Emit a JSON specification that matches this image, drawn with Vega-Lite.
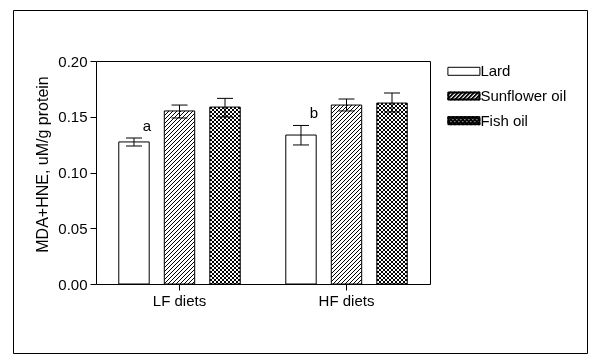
{
  "$schema": "https://vega.github.io/schema/vega-lite/v6.json",
  "width": 574,
  "height": 343,
  "autosize": "none",
  "padding": {"left": 13, "top": 10, "right": 15, "bottom": 11},
  "background": "white",
  "data": {
    "values": [
      {"diet": "LF diets", "fat": "Lard", "mean": 0.1274, "lo": 0.1238, "hi": 0.1309, "letter": "a"},
      {"diet": "LF diets", "fat": "Sunflower oil", "mean": 0.1552, "lo": 0.1489, "hi": 0.1605, "letter": ""},
      {"diet": "LF diets", "fat": "Fish oil", "mean": 0.1587, "lo": 0.1498, "hi": 0.1665, "letter": ""},
      {"diet": "HF diets", "fat": "Lard", "mean": 0.1336, "lo": 0.1247, "hi": 0.1422, "letter": "b"},
      {"diet": "HF diets", "fat": "Sunflower oil", "mean": 0.1605, "lo": 0.1552, "hi": 0.1659, "letter": ""},
      {"diet": "HF diets", "fat": "Fish oil", "mean": 0.1623, "lo": 0.1543, "hi": 0.1713, "letter": ""}
    ]
  },
  "encoding": {
    "x": {"field": "diet", "type": "nominal", "scale": {"domain": ["LF diets", "HF diets"], "range": [83, 417], "paddingInner": 0.273, "paddingOuter": 0.1365}, "axis": null},
    "xOffset": {"field": "fat", "type": "nominal", "scale": {"domain": ["Lard", "Sunflower oil", "Fish oil"], "paddingInner": 0.332, "paddingOuter": 0}}
  },
  "layer": [
    {
      "transform": [{"filter": "datum.fat === 'Sunflower oil' && datum.diet === 'LF diets'"}],
      "mark": {
        "type": "bar",
        "strokeWidth": 0,
        "fill": {
          "gradient": "linear", "x1": 0, "y1": 0, "x2": 0.20953, "y2": 1.19273,
          "stops": [
            {"offset":0,"color":"#000"},{"offset":0.00705,"color":"#000"},{"offset":0.00705,"color":"#fff"},{"offset":0.0188,"color":"#fff"},
            {"offset":0.0188,"color":"#000"},{"offset":0.02585,"color":"#000"},{"offset":0.02585,"color":"#fff"},{"offset":0.0376,"color":"#fff"},
            {"offset":0.0376,"color":"#000"},{"offset":0.04465,"color":"#000"},{"offset":0.04465,"color":"#fff"},{"offset":0.0564,"color":"#fff"},
            {"offset":0.0564,"color":"#000"},{"offset":0.06345,"color":"#000"},{"offset":0.06345,"color":"#fff"},{"offset":0.0752,"color":"#fff"},
            {"offset":0.0752,"color":"#000"},{"offset":0.08225,"color":"#000"},{"offset":0.08225,"color":"#fff"},{"offset":0.094,"color":"#fff"},
            {"offset":0.094,"color":"#000"},{"offset":0.10105,"color":"#000"},{"offset":0.10105,"color":"#fff"},{"offset":0.1128,"color":"#fff"},
            {"offset":0.1128,"color":"#000"},{"offset":0.11985,"color":"#000"},{"offset":0.11985,"color":"#fff"},{"offset":0.1316,"color":"#fff"},
            {"offset":0.1316,"color":"#000"},{"offset":0.13865,"color":"#000"},{"offset":0.13865,"color":"#fff"},{"offset":0.1504,"color":"#fff"},
            {"offset":0.1504,"color":"#000"},{"offset":0.15745,"color":"#000"},{"offset":0.15745,"color":"#fff"},{"offset":0.1692,"color":"#fff"},
            {"offset":0.1692,"color":"#000"},{"offset":0.17625,"color":"#000"},{"offset":0.17625,"color":"#fff"},{"offset":0.188,"color":"#fff"},
            {"offset":0.188,"color":"#000"},{"offset":0.19505,"color":"#000"},{"offset":0.19505,"color":"#fff"},{"offset":0.2068,"color":"#fff"},
            {"offset":0.2068,"color":"#000"},{"offset":0.21385,"color":"#000"},{"offset":0.21385,"color":"#fff"},{"offset":0.2256,"color":"#fff"},
            {"offset":0.2256,"color":"#000"},{"offset":0.23265,"color":"#000"},{"offset":0.23265,"color":"#fff"},{"offset":0.2444,"color":"#fff"},
            {"offset":0.2444,"color":"#000"},{"offset":0.25145,"color":"#000"},{"offset":0.25145,"color":"#fff"},{"offset":0.2632,"color":"#fff"},
            {"offset":0.2632,"color":"#000"},{"offset":0.27025,"color":"#000"},{"offset":0.27025,"color":"#fff"},{"offset":0.282,"color":"#fff"},
            {"offset":0.282,"color":"#000"},{"offset":0.28905,"color":"#000"},{"offset":0.28905,"color":"#fff"},{"offset":0.3008,"color":"#fff"},
            {"offset":0.3008,"color":"#000"},{"offset":0.30785,"color":"#000"},{"offset":0.30785,"color":"#fff"},{"offset":0.3196,"color":"#fff"},
            {"offset":0.3196,"color":"#000"},{"offset":0.32665,"color":"#000"},{"offset":0.32665,"color":"#fff"},{"offset":0.3384,"color":"#fff"},
            {"offset":0.3384,"color":"#000"},{"offset":0.34545,"color":"#000"},{"offset":0.34545,"color":"#fff"},{"offset":0.3572,"color":"#fff"},
            {"offset":0.3572,"color":"#000"},{"offset":0.36425,"color":"#000"},{"offset":0.36425,"color":"#fff"},{"offset":0.376,"color":"#fff"},
            {"offset":0.376,"color":"#000"},{"offset":0.38305,"color":"#000"},{"offset":0.38305,"color":"#fff"},{"offset":0.3948,"color":"#fff"},
            {"offset":0.3948,"color":"#000"},{"offset":0.40185,"color":"#000"},{"offset":0.40185,"color":"#fff"},{"offset":0.4136,"color":"#fff"},
            {"offset":0.4136,"color":"#000"},{"offset":0.42065,"color":"#000"},{"offset":0.42065,"color":"#fff"},{"offset":0.4324,"color":"#fff"},
            {"offset":0.4324,"color":"#000"},{"offset":0.43945,"color":"#000"},{"offset":0.43945,"color":"#fff"},{"offset":0.4512,"color":"#fff"},
            {"offset":0.4512,"color":"#000"},{"offset":0.45825,"color":"#000"},{"offset":0.45825,"color":"#fff"},{"offset":0.47,"color":"#fff"},
            {"offset":0.47,"color":"#000"},{"offset":0.47705,"color":"#000"},{"offset":0.47705,"color":"#fff"},{"offset":0.4888,"color":"#fff"},
            {"offset":0.4888,"color":"#000"},{"offset":0.49585,"color":"#000"},{"offset":0.49585,"color":"#fff"},{"offset":0.5076,"color":"#fff"},
            {"offset":0.5076,"color":"#000"},{"offset":0.51465,"color":"#000"},{"offset":0.51465,"color":"#fff"},{"offset":0.5264,"color":"#fff"},
            {"offset":0.5264,"color":"#000"},{"offset":0.53345,"color":"#000"},{"offset":0.53345,"color":"#fff"},{"offset":0.5452,"color":"#fff"},
            {"offset":0.5452,"color":"#000"},{"offset":0.55225,"color":"#000"},{"offset":0.55225,"color":"#fff"},{"offset":0.564,"color":"#fff"},
            {"offset":0.564,"color":"#000"},{"offset":0.57105,"color":"#000"},{"offset":0.57105,"color":"#fff"},{"offset":0.5828,"color":"#fff"},
            {"offset":0.5828,"color":"#000"},{"offset":0.58985,"color":"#000"},{"offset":0.58985,"color":"#fff"},{"offset":0.6016,"color":"#fff"},
            {"offset":0.6016,"color":"#000"},{"offset":0.60865,"color":"#000"},{"offset":0.60865,"color":"#fff"},{"offset":0.6204,"color":"#fff"},
            {"offset":0.6204,"color":"#000"},{"offset":0.62745,"color":"#000"},{"offset":0.62745,"color":"#fff"},{"offset":0.6392,"color":"#fff"},
            {"offset":0.6392,"color":"#000"},{"offset":0.64625,"color":"#000"},{"offset":0.64625,"color":"#fff"},{"offset":0.658,"color":"#fff"},
            {"offset":0.658,"color":"#000"},{"offset":0.66505,"color":"#000"},{"offset":0.66505,"color":"#fff"},{"offset":0.6768,"color":"#fff"},
            {"offset":0.6768,"color":"#000"},{"offset":0.68385,"color":"#000"},{"offset":0.68385,"color":"#fff"},{"offset":0.6956,"color":"#fff"},
            {"offset":0.6956,"color":"#000"},{"offset":0.70265,"color":"#000"},{"offset":0.70265,"color":"#fff"},{"offset":0.7144,"color":"#fff"},
            {"offset":0.7144,"color":"#000"},{"offset":0.72145,"color":"#000"},{"offset":0.72145,"color":"#fff"},{"offset":0.7332,"color":"#fff"},
            {"offset":0.7332,"color":"#000"},{"offset":0.74025,"color":"#000"},{"offset":0.74025,"color":"#fff"},{"offset":0.752,"color":"#fff"},
            {"offset":0.752,"color":"#000"},{"offset":0.75905,"color":"#000"},{"offset":0.75905,"color":"#fff"},{"offset":0.7708,"color":"#fff"},
            {"offset":0.7708,"color":"#000"},{"offset":0.77785,"color":"#000"},{"offset":0.77785,"color":"#fff"},{"offset":0.7896,"color":"#fff"},
            {"offset":0.7896,"color":"#000"},{"offset":0.79665,"color":"#000"},{"offset":0.79665,"color":"#fff"},{"offset":0.8084,"color":"#fff"},
            {"offset":0.8084,"color":"#000"},{"offset":0.81545,"color":"#000"},{"offset":0.81545,"color":"#fff"},{"offset":0.8272,"color":"#fff"},
            {"offset":0.8272,"color":"#000"},{"offset":0.83425,"color":"#000"},{"offset":0.83425,"color":"#fff"},{"offset":0.846,"color":"#fff"},
            {"offset":0.846,"color":"#000"},{"offset":0.85305,"color":"#000"},{"offset":0.85305,"color":"#fff"},{"offset":0.8648,"color":"#fff"},
            {"offset":0.8648,"color":"#000"},{"offset":0.87185,"color":"#000"},{"offset":0.87185,"color":"#fff"},{"offset":0.8836,"color":"#fff"},
            {"offset":0.8836,"color":"#000"},{"offset":0.89065,"color":"#000"},{"offset":0.89065,"color":"#fff"},{"offset":0.9024,"color":"#fff"},
            {"offset":0.9024,"color":"#000"},{"offset":0.90945,"color":"#000"},{"offset":0.90945,"color":"#fff"},{"offset":0.9212,"color":"#fff"},
            {"offset":0.9212,"color":"#000"},{"offset":0.92825,"color":"#000"},{"offset":0.92825,"color":"#fff"},{"offset":0.94,"color":"#fff"},
            {"offset":0.94,"color":"#000"},{"offset":0.94705,"color":"#000"},{"offset":0.94705,"color":"#fff"},{"offset":0.9588,"color":"#fff"},
            {"offset":0.9588,"color":"#000"},{"offset":0.96585,"color":"#000"},{"offset":0.96585,"color":"#fff"},{"offset":0.9776,"color":"#fff"},
            {"offset":0.9776,"color":"#000"},{"offset":0.98465,"color":"#000"},{"offset":0.98465,"color":"#fff"},{"offset":1,"color":"#fff"}
          ]
        }
      },
      "encoding": {
        "y": {"field": "mean", "type": "quantitative", "scale": {"domain": [0, 0.2], "range": [274, 51], "nice": false}, "axis": null}
      }
    },
    {
      "transform": [{"filter": "datum.fat === 'Sunflower oil' && datum.diet === 'HF diets'"}],
      "mark": {
        "type": "bar",
        "strokeWidth": 0,
        "fill": {
          "gradient": "linear", "x1": 0, "y1": 0, "x2": 0.1963, "y2": 1.15558,
          "stops": [
            {"offset":0,"color":"#000"},{"offset":0.00705,"color":"#000"},{"offset":0.00705,"color":"#fff"},{"offset":0.0188,"color":"#fff"},
            {"offset":0.0188,"color":"#000"},{"offset":0.02585,"color":"#000"},{"offset":0.02585,"color":"#fff"},{"offset":0.0376,"color":"#fff"},
            {"offset":0.0376,"color":"#000"},{"offset":0.04465,"color":"#000"},{"offset":0.04465,"color":"#fff"},{"offset":0.0564,"color":"#fff"},
            {"offset":0.0564,"color":"#000"},{"offset":0.06345,"color":"#000"},{"offset":0.06345,"color":"#fff"},{"offset":0.0752,"color":"#fff"},
            {"offset":0.0752,"color":"#000"},{"offset":0.08225,"color":"#000"},{"offset":0.08225,"color":"#fff"},{"offset":0.094,"color":"#fff"},
            {"offset":0.094,"color":"#000"},{"offset":0.10105,"color":"#000"},{"offset":0.10105,"color":"#fff"},{"offset":0.1128,"color":"#fff"},
            {"offset":0.1128,"color":"#000"},{"offset":0.11985,"color":"#000"},{"offset":0.11985,"color":"#fff"},{"offset":0.1316,"color":"#fff"},
            {"offset":0.1316,"color":"#000"},{"offset":0.13865,"color":"#000"},{"offset":0.13865,"color":"#fff"},{"offset":0.1504,"color":"#fff"},
            {"offset":0.1504,"color":"#000"},{"offset":0.15745,"color":"#000"},{"offset":0.15745,"color":"#fff"},{"offset":0.1692,"color":"#fff"},
            {"offset":0.1692,"color":"#000"},{"offset":0.17625,"color":"#000"},{"offset":0.17625,"color":"#fff"},{"offset":0.188,"color":"#fff"},
            {"offset":0.188,"color":"#000"},{"offset":0.19505,"color":"#000"},{"offset":0.19505,"color":"#fff"},{"offset":0.2068,"color":"#fff"},
            {"offset":0.2068,"color":"#000"},{"offset":0.21385,"color":"#000"},{"offset":0.21385,"color":"#fff"},{"offset":0.2256,"color":"#fff"},
            {"offset":0.2256,"color":"#000"},{"offset":0.23265,"color":"#000"},{"offset":0.23265,"color":"#fff"},{"offset":0.2444,"color":"#fff"},
            {"offset":0.2444,"color":"#000"},{"offset":0.25145,"color":"#000"},{"offset":0.25145,"color":"#fff"},{"offset":0.2632,"color":"#fff"},
            {"offset":0.2632,"color":"#000"},{"offset":0.27025,"color":"#000"},{"offset":0.27025,"color":"#fff"},{"offset":0.282,"color":"#fff"},
            {"offset":0.282,"color":"#000"},{"offset":0.28905,"color":"#000"},{"offset":0.28905,"color":"#fff"},{"offset":0.3008,"color":"#fff"},
            {"offset":0.3008,"color":"#000"},{"offset":0.30785,"color":"#000"},{"offset":0.30785,"color":"#fff"},{"offset":0.3196,"color":"#fff"},
            {"offset":0.3196,"color":"#000"},{"offset":0.32665,"color":"#000"},{"offset":0.32665,"color":"#fff"},{"offset":0.3384,"color":"#fff"},
            {"offset":0.3384,"color":"#000"},{"offset":0.34545,"color":"#000"},{"offset":0.34545,"color":"#fff"},{"offset":0.3572,"color":"#fff"},
            {"offset":0.3572,"color":"#000"},{"offset":0.36425,"color":"#000"},{"offset":0.36425,"color":"#fff"},{"offset":0.376,"color":"#fff"},
            {"offset":0.376,"color":"#000"},{"offset":0.38305,"color":"#000"},{"offset":0.38305,"color":"#fff"},{"offset":0.3948,"color":"#fff"},
            {"offset":0.3948,"color":"#000"},{"offset":0.40185,"color":"#000"},{"offset":0.40185,"color":"#fff"},{"offset":0.4136,"color":"#fff"},
            {"offset":0.4136,"color":"#000"},{"offset":0.42065,"color":"#000"},{"offset":0.42065,"color":"#fff"},{"offset":0.4324,"color":"#fff"},
            {"offset":0.4324,"color":"#000"},{"offset":0.43945,"color":"#000"},{"offset":0.43945,"color":"#fff"},{"offset":0.4512,"color":"#fff"},
            {"offset":0.4512,"color":"#000"},{"offset":0.45825,"color":"#000"},{"offset":0.45825,"color":"#fff"},{"offset":0.47,"color":"#fff"},
            {"offset":0.47,"color":"#000"},{"offset":0.47705,"color":"#000"},{"offset":0.47705,"color":"#fff"},{"offset":0.4888,"color":"#fff"},
            {"offset":0.4888,"color":"#000"},{"offset":0.49585,"color":"#000"},{"offset":0.49585,"color":"#fff"},{"offset":0.5076,"color":"#fff"},
            {"offset":0.5076,"color":"#000"},{"offset":0.51465,"color":"#000"},{"offset":0.51465,"color":"#fff"},{"offset":0.5264,"color":"#fff"},
            {"offset":0.5264,"color":"#000"},{"offset":0.53345,"color":"#000"},{"offset":0.53345,"color":"#fff"},{"offset":0.5452,"color":"#fff"},
            {"offset":0.5452,"color":"#000"},{"offset":0.55225,"color":"#000"},{"offset":0.55225,"color":"#fff"},{"offset":0.564,"color":"#fff"},
            {"offset":0.564,"color":"#000"},{"offset":0.57105,"color":"#000"},{"offset":0.57105,"color":"#fff"},{"offset":0.5828,"color":"#fff"},
            {"offset":0.5828,"color":"#000"},{"offset":0.58985,"color":"#000"},{"offset":0.58985,"color":"#fff"},{"offset":0.6016,"color":"#fff"},
            {"offset":0.6016,"color":"#000"},{"offset":0.60865,"color":"#000"},{"offset":0.60865,"color":"#fff"},{"offset":0.6204,"color":"#fff"},
            {"offset":0.6204,"color":"#000"},{"offset":0.62745,"color":"#000"},{"offset":0.62745,"color":"#fff"},{"offset":0.6392,"color":"#fff"},
            {"offset":0.6392,"color":"#000"},{"offset":0.64625,"color":"#000"},{"offset":0.64625,"color":"#fff"},{"offset":0.658,"color":"#fff"},
            {"offset":0.658,"color":"#000"},{"offset":0.66505,"color":"#000"},{"offset":0.66505,"color":"#fff"},{"offset":0.6768,"color":"#fff"},
            {"offset":0.6768,"color":"#000"},{"offset":0.68385,"color":"#000"},{"offset":0.68385,"color":"#fff"},{"offset":0.6956,"color":"#fff"},
            {"offset":0.6956,"color":"#000"},{"offset":0.70265,"color":"#000"},{"offset":0.70265,"color":"#fff"},{"offset":0.7144,"color":"#fff"},
            {"offset":0.7144,"color":"#000"},{"offset":0.72145,"color":"#000"},{"offset":0.72145,"color":"#fff"},{"offset":0.7332,"color":"#fff"},
            {"offset":0.7332,"color":"#000"},{"offset":0.74025,"color":"#000"},{"offset":0.74025,"color":"#fff"},{"offset":0.752,"color":"#fff"},
            {"offset":0.752,"color":"#000"},{"offset":0.75905,"color":"#000"},{"offset":0.75905,"color":"#fff"},{"offset":0.7708,"color":"#fff"},
            {"offset":0.7708,"color":"#000"},{"offset":0.77785,"color":"#000"},{"offset":0.77785,"color":"#fff"},{"offset":0.7896,"color":"#fff"},
            {"offset":0.7896,"color":"#000"},{"offset":0.79665,"color":"#000"},{"offset":0.79665,"color":"#fff"},{"offset":0.8084,"color":"#fff"},
            {"offset":0.8084,"color":"#000"},{"offset":0.81545,"color":"#000"},{"offset":0.81545,"color":"#fff"},{"offset":0.8272,"color":"#fff"},
            {"offset":0.8272,"color":"#000"},{"offset":0.83425,"color":"#000"},{"offset":0.83425,"color":"#fff"},{"offset":0.846,"color":"#fff"},
            {"offset":0.846,"color":"#000"},{"offset":0.85305,"color":"#000"},{"offset":0.85305,"color":"#fff"},{"offset":0.8648,"color":"#fff"},
            {"offset":0.8648,"color":"#000"},{"offset":0.87185,"color":"#000"},{"offset":0.87185,"color":"#fff"},{"offset":0.8836,"color":"#fff"},
            {"offset":0.8836,"color":"#000"},{"offset":0.89065,"color":"#000"},{"offset":0.89065,"color":"#fff"},{"offset":0.9024,"color":"#fff"},
            {"offset":0.9024,"color":"#000"},{"offset":0.90945,"color":"#000"},{"offset":0.90945,"color":"#fff"},{"offset":0.9212,"color":"#fff"},
            {"offset":0.9212,"color":"#000"},{"offset":0.92825,"color":"#000"},{"offset":0.92825,"color":"#fff"},{"offset":0.94,"color":"#fff"},
            {"offset":0.94,"color":"#000"},{"offset":0.94705,"color":"#000"},{"offset":0.94705,"color":"#fff"},{"offset":0.9588,"color":"#fff"},
            {"offset":0.9588,"color":"#000"},{"offset":0.96585,"color":"#000"},{"offset":0.96585,"color":"#fff"},{"offset":0.9776,"color":"#fff"},
            {"offset":0.9776,"color":"#000"},{"offset":0.98465,"color":"#000"},{"offset":0.98465,"color":"#fff"},{"offset":1,"color":"#fff"}
          ]
        }
      },
      "encoding": {
        "y": {"field": "mean", "type": "quantitative", "scale": {"domain": [0, 0.2], "range": [274, 51], "nice": false}, "axis": null}
      }
    },
    {
      "transform": [{"filter": "datum.fat === 'Fish oil'"}],
      "mark": {"type": "rule", "stroke": "#000", "strokeWidth": 30.4, "strokeDash": [2, 2], "strokeCap": "butt"},
      "encoding": {
        "y": {"field": "mean", "type": "quantitative", "scale": {"domain": [0, 0.2], "range": [274, 51], "nice": false}, "axis": null},
        "y2": {"datum": 0}
      }
    },
    {
      "transform": [{"filter": "datum.fat === 'Fish oil'"}],
      "mark": {
        "type": "bar",
        "strokeWidth": 0,
        "blend": "difference",
        "fill": {
          "gradient": "linear", "x1": 0, "y1": 0, "x2": 1, "y2": 0,
          "stops": [
            {"offset":0,"color":"#000"},{"offset":0.0658,"color":"#000"},{"offset":0.0658,"color":"#fff"},{"offset":0.1316,"color":"#fff"},
            {"offset":0.1316,"color":"#000"},{"offset":0.1974,"color":"#000"},{"offset":0.1974,"color":"#fff"},{"offset":0.2632,"color":"#fff"},
            {"offset":0.2632,"color":"#000"},{"offset":0.3289,"color":"#000"},{"offset":0.3289,"color":"#fff"},{"offset":0.3947,"color":"#fff"},
            {"offset":0.3947,"color":"#000"},{"offset":0.4605,"color":"#000"},{"offset":0.4605,"color":"#fff"},{"offset":0.5263,"color":"#fff"},
            {"offset":0.5263,"color":"#000"},{"offset":0.5921,"color":"#000"},{"offset":0.5921,"color":"#fff"},{"offset":0.6579,"color":"#fff"},
            {"offset":0.6579,"color":"#000"},{"offset":0.7237,"color":"#000"},{"offset":0.7237,"color":"#fff"},{"offset":0.7895,"color":"#fff"},
            {"offset":0.7895,"color":"#000"},{"offset":0.8553,"color":"#000"},{"offset":0.8553,"color":"#fff"},{"offset":0.9211,"color":"#fff"},
            {"offset":0.9211,"color":"#000"},{"offset":0.9868,"color":"#000"},{"offset":0.9868,"color":"#fff"},{"offset":1,"color":"#fff"}
          ]
        }
      },
      "encoding": {
        "y": {"field": "mean", "type": "quantitative", "scale": {"domain": [0, 0.2], "range": [274, 51], "nice": false}, "axis": null}
      }
    },
    {
      "mark": {"type": "bar", "fill": "transparent", "strokeWidth": 1},
      "encoding": {
        "x": {
          "field": "diet", "type": "nominal",
          "scale": {"domain": ["LF diets", "HF diets"], "range": [83, 417], "paddingInner": 0.273, "paddingOuter": 0.1365},
          "axis": {"orient": "bottom", "offset": -69, "title": null, "labelAngle": 0, "tickSize": 6, "labelPadding": 3}
        },
        "y": {
          "field": "mean", "type": "quantitative",
          "scale": {"domain": [0, 0.2], "range": [274, 51], "nice": false},
          "axis": {"orient": "left", "offset": -83, "values": [0, 0.05, 0.1, 0.15, 0.2], "format": ".2f", "title": "MDA+HNE, uM/g protein", "titlePadding": 7, "titleY": 154, "tickSize": 6, "labelPadding": 3}
        },
        "stroke": {
          "field": "fat", "type": "nominal",
          "scale": {"domain": ["Lard", "Sunflower oil", "Fish oil"], "range": ["#000", "#000", "#000"]},
          "legend": {
            "orient": "none", "legendX": 443.4, "legendY": 53.8, "title": null, "padding": 0,
            "symbolSize": 64, "labelOffset": 9, "rowPadding": 8.7,
            "labelFont": "Liberation Sans", "labelFontSize": 15, "labelColor": "#000",
            "encoding": {
              "symbols": {
                "shape": {"value": {"expr": "datum.value === 'Lard' ? 'M-4 -1H4V1H-4Z' : datum.value === 'Sunflower oil' ? 'M-4 -1H4V1H-4Z M-3.75 -0.75V0.75H3.75V-0.75Z M-3.5 -1L-3.125 -1L-4 -0.125L-4 -0.5Z M-2.5 -1L-2.125 -1L-4 0.875L-4 0.5Z M-1.5 -1L-1.125 -1L-3.125 1L-3.5 1Z M-0.5 -1L-0.125 -1L-2.125 1L-2.5 1Z M0.5 -1L0.875 -1L-1.125 1L-1.5 1Z M1.5 -1L1.875 -1L-0.125 1L-0.5 1Z M2.5 -1L2.875 -1L0.875 1L0.5 1Z M3.5 -1L3.875 -1L1.875 1L1.5 1Z M4 -0.5L4 -0.125L2.875 1L2.5 1Z M4 0.5L4 0.875L3.875 1L3.5 1Z' : 'M-4 -1H4V1H-4Z M-3.75 -0.75V0.75H3.75V-0.75Z M-4 -1h0.5v0.5h-0.5z M-3 -1h0.5v0.5h-0.5z M-2 -1h0.5v0.5h-0.5z M-1 -1h0.5v0.5h-0.5z M0 -1h0.5v0.5h-0.5z M1 -1h0.5v0.5h-0.5z M2 -1h0.5v0.5h-0.5z M3 -1h0.5v0.5h-0.5z M-3.5 -0.5h0.5v0.5h-0.5z M-2.5 -0.5h0.5v0.5h-0.5z M-1.5 -0.5h0.5v0.5h-0.5z M-0.5 -0.5h0.5v0.5h-0.5z M0.5 -0.5h0.5v0.5h-0.5z M1.5 -0.5h0.5v0.5h-0.5z M2.5 -0.5h0.5v0.5h-0.5z M3.5 -0.5h0.5v0.5h-0.5z M-4 0h0.5v0.5h-0.5z M-3 0h0.5v0.5h-0.5z M-2 0h0.5v0.5h-0.5z M-1 0h0.5v0.5h-0.5z M0 0h0.5v0.5h-0.5z M1 0h0.5v0.5h-0.5z M2 0h0.5v0.5h-0.5z M3 0h0.5v0.5h-0.5z M-3.5 0.5h0.5v0.5h-0.5z M-2.5 0.5h0.5v0.5h-0.5z M-1.5 0.5h0.5v0.5h-0.5z M-0.5 0.5h0.5v0.5h-0.5z M0.5 0.5h0.5v0.5h-0.5z M1.5 0.5h0.5v0.5h-0.5z M2.5 0.5h0.5v0.5h-0.5z M3.5 0.5h0.5v0.5h-0.5z'"}},
                "fill": {"value": {"expr": "datum.value === 'Lard' ? '#fff' : '#000'"}},
                "stroke": {"value": {"expr": "datum.value === 'Lard' ? '#000' : 'transparent'"}},
                "strokeWidth": {"value": 1},
                "opacity": {"value": 1}
              }
            }
          }
        }
      }
    },
    {
      "mark": {"type": "rule", "color": "#000", "strokeWidth": 1},
      "encoding": {
        "x": {
          "field": "diet", "type": "nominal",
          "scale": {"domain": ["LF diets", "HF diets"], "range": [83, 417], "paddingInner": 0.273, "paddingOuter": 0.1365},
          "axis": {"orient": "top", "offset": -51, "title": null, "ticks": false, "labels": false, "domain": true}
        },
        "y": {
          "field": "lo", "type": "quantitative",
          "scale": {"domain": [0, 0.2], "range": [274, 51], "nice": false},
          "axis": {"orient": "right", "offset": -157, "title": null, "ticks": false, "labels": false, "domain": true}
        },
        "y2": {"field": "hi"}
      }
    },
    {
      "mark": {"type": "tick", "color": "#000", "thickness": 1, "size": 16, "orient": "horizontal", "opacity": 1},
      "encoding": {
        "y": {"field": "hi", "type": "quantitative", "scale": {"domain": [0, 0.2], "range": [274, 51], "nice": false}, "axis": null}
      }
    },
    {
      "mark": {"type": "tick", "color": "#000", "thickness": 1, "size": 16, "orient": "horizontal", "opacity": 1},
      "encoding": {
        "y": {"field": "lo", "type": "quantitative", "scale": {"domain": [0, 0.2], "range": [274, 51], "nice": false}, "axis": null}
      }
    },
    {
      "transform": [{"filter": "datum.letter !== ''"}],
      "mark": {"type": "text", "dx": 13, "dy": -7.5, "baseline": "alphabetic", "align": "center", "font": "Liberation Sans", "fontSize": 15, "color": "#000"},
      "encoding": {
        "y": {"field": "hi", "type": "quantitative", "scale": {"domain": [0, 0.2], "range": [274, 51], "nice": false}, "axis": null},
        "text": {"field": "letter"}
      }
    }
  ],
  "resolve": {"axis": {"x": "independent", "y": "independent"}},
  "config": {
    "view": {"stroke": "#000", "strokeWidth": 1, "fill": "white"},
    "axis": {
      "grid": false,
      "domainColor": "#000", "tickColor": "#000", "labelColor": "#000", "titleColor": "#000",
      "domainWidth": 1, "tickWidth": 1,
      "labelFont": "Liberation Sans", "titleFont": "Liberation Sans",
      "labelFontSize": 15, "titleFontSize": 16, "titleFontWeight": "normal"
    }
  }
}
